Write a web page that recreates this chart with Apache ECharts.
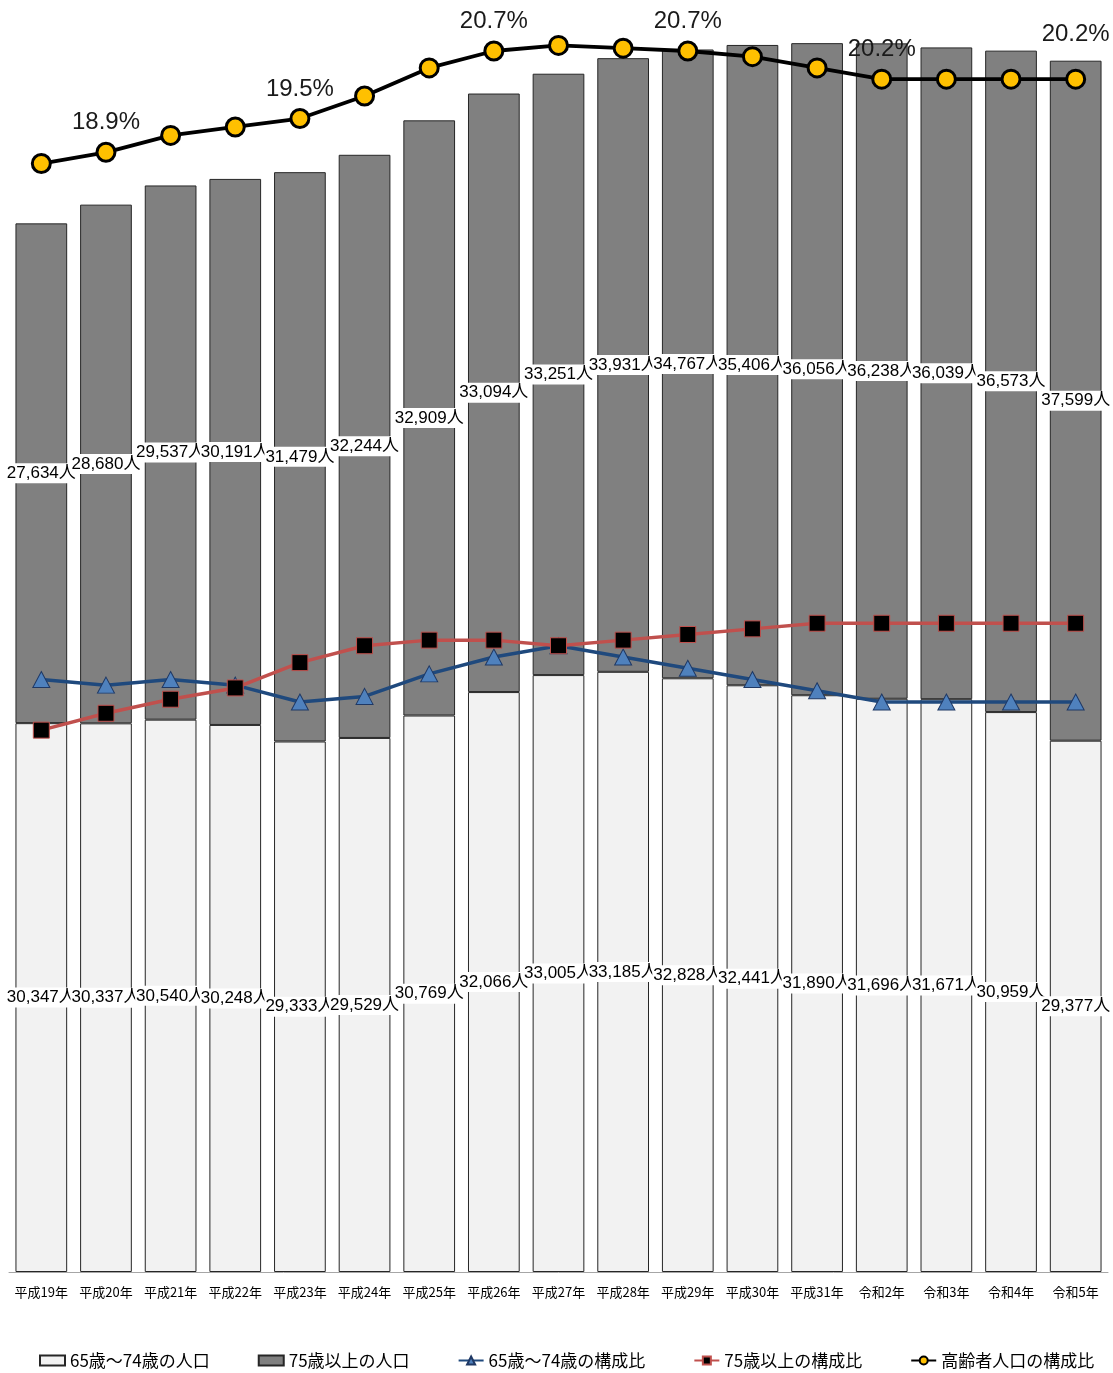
<!DOCTYPE html>
<html><head><meta charset="utf-8">
<script src="https://cdn.jsdelivr.net/npm/echarts@6/dist/echarts.min.js"></script>
<style>html,body{margin:0;padding:0;background:#fff}#chart{width:1113px;height:1373px}</style>
</head><body><div id="chart"></div>
<script>
const categories = ['平成19年','平成20年','平成21年','平成22年','平成23年','平成24年','平成25年','平成26年','平成27年','平成28年','平成29年','平成30年','平成31年','令和2年','令和3年','令和4年','令和5年'];
const pop65to74 = [30347,30337,30540,30248,29333,29529,30769,32066,33005,33185,32828,32441,31890,31696,31671,30959,29377];
const pop75plus = [27634,28680,29537,30191,31479,32244,32909,33094,33251,33931,34767,35406,36056,36238,36039,36573,37599];
const ratio65to74 = [9.8,9.7,9.8,9.7,9.4,9.5,9.9,10.2,10.4,10.2,10.0,9.8,9.6,9.4,9.4,9.4,9.4];
const ratio75plus = [8.9,9.2,9.45,9.65,10.1,10.4,10.5,10.5,10.4,10.5,10.6,10.7,10.8,10.8,10.8,10.8,10.8];
const ratioElderly = [18.7,18.9,19.2,19.35,19.5,19.9,20.4,20.7,20.8,20.75,20.7,20.6,20.4,20.2,20.2,20.2,20.2];
const labelledYears = ['平成20年','平成23年','平成26年','平成29年','令和2年','令和5年'];

const narrow = "'Liberation Sans Narrow','Arial Narrow','Liberation Sans','Noto Sans CJK JP',sans-serif";
const jp = "'Noto Sans CJK JP','Noto Sans',sans-serif";

const chart = echarts.init(document.getElementById('chart'), null, {renderer:'canvas'});
const barLabel = {
  show: true, position: 'inside', color: '#000', fontFamily: narrow, fontSize: 17,
  backgroundColor: '#fff', padding: [2, 1, 1, 1],
  formatter: p => p.value.toLocaleString('en-US') + '人'
};
const last = categories.length - 1;
const elderlyData = ratioElderly.map((v, i) => {
  const item = { value: v, label: { show: labelledYears.includes(categories[i]) } };
  if (i === last) item.label.offset = [0, -15];
  return item;
});

chart.setOption({
  animation: false,
  textStyle: { fontFamily: jp },
  grid: { left: 9, right: 5, top: 6, bottom: 101, containLabel: false },
  legend: {
    left: 34, top: 1347,
    itemWidth: 25, itemHeight: 10, itemGap: 48,
    textStyle: { fontSize: 17, color: '#000', fontFamily: jp },
    data: [
      { name: '65歳～74歳の人口', icon: 'rect' },
      { name: '75歳以上の人口', icon: 'rect' },
      '65歳～74歳の構成比', '75歳以上の構成比', '高齢者人口の構成比'
    ]
  },
  xAxis: {
    type: 'category', data: categories,
    axisLine: { lineStyle: { color: '#a6a6a6', width: 1 } },
    axisTick: { show: false },
    axisLabel: { fontSize: 13, color: '#000', margin: 14, interval: 0, fontFamily: jp }
  },
  yAxis: [
    { type: 'value', min: 0, max: 70000, show: false, splitLine: { show: false } },
    { type: 'value', min: -1, max: 21.5, show: false, splitLine: { show: false } },
    { type: 'value', min: -0.73, max: 21.77, show: false, splitLine: { show: false } }
  ],
  series: [
    { name: '65歳～74歳の人口', type: 'bar', stack: 'pop', barCategoryGap: '20%', data: pop65to74,
      itemStyle: { color: '#f2f2f2', borderColor: '#262626', borderWidth: 1 }, label: barLabel },
    { name: '75歳以上の人口', type: 'bar', stack: 'pop', data: pop75plus,
      itemStyle: { color: '#808080', borderColor: '#262626', borderWidth: 1 }, label: barLabel },
    { name: '65歳～74歳の構成比', type: 'line', yAxisIndex: 2, data: ratio65to74, z: 4,
      lineStyle: { color: '#1f497d', width: 3.5 },
      symbol: 'triangle', symbolSize: [17, 16],
      itemStyle: { color: '#4f81bd', borderColor: '#1f3864', borderWidth: 1 } },
    { name: '75歳以上の構成比', type: 'line', yAxisIndex: 2, data: ratio75plus, z: 5,
      lineStyle: { color: '#c0504d', width: 3.5 },
      symbol: 'rect', symbolSize: 16,
      itemStyle: { color: '#000', borderColor: '#c0504d', borderWidth: 1 } },
    { name: '高齢者人口の構成比', type: 'line', yAxisIndex: 1, data: elderlyData, z: 6,
      lineStyle: { color: '#000', width: 3.8 },
      symbol: 'circle', symbolSize: 18,
      itemStyle: { color: '#ffc000', borderColor: '#000', borderWidth: 3 },
      label: { show: false, position: 'top', distance: 7, color: '#1a1a1a', fontFamily: narrow, fontSize: 24,
        formatter: p => p.value.toFixed(1) + '%' } }
  ]
});
</script></body></html>
